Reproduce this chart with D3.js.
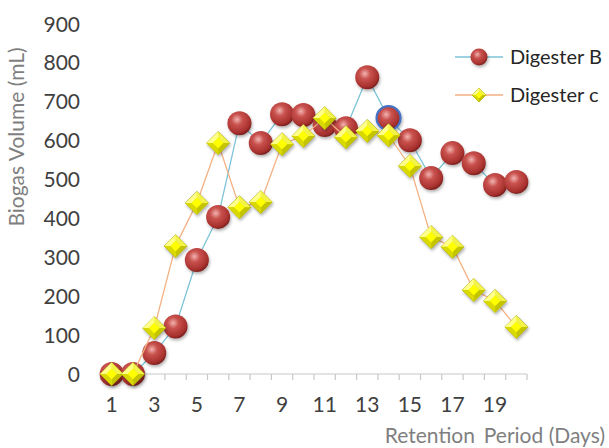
<!DOCTYPE html>
<html>
<head>
<meta charset="utf-8">
<script src="https://cdn.jsdelivr.net/npm/d3@7"></script>
<style>
  body { margin: 0; background: #fff; }
  text { font-family: Lato, "Liberation Sans", Arial, sans-serif; }
</style>
</head>
<body>
<div id="chart"></div>
<script>
// Data
var days = d3.range(1, 21);
var digesterB = [0, 0, 54, 122, 293, 404, 645, 594, 668, 666, 640, 632, 763, 658, 601, 504, 568, 542, 486, 494];
var digesterC = [0, 0, 118, 329, 440, 594, 429, 442, 591, 612, 658, 609, 625, 614, 535, 352, 327, 216, 188, 121];
var yTicks = [0, 100, 200, 300, 400, 500, 600, 700, 800, 900];
var xLabels = [1, 3, 5, 7, 9, 11, 13, 15, 17, 19];
var seriesNames = ["Digester B", "Digester c"];

// Env params
const width = 609;
const height = 448;
const plotLeft = 101, plotRight = 527, plotTop = 24, plotBottom = 374;

var svg = d3.select("#chart").append("svg")
  .attr("width", width)
  .attr("height", height);

var defs = svg.append("defs");

// sphere look for the red circles
var rg = defs.append("radialGradient")
  .attr("id", "ball")
  .attr("cx", "40%").attr("cy", "35%").attr("r", "65%");
rg.append("stop").attr("offset", "0%").attr("stop-color", "#f2b3b0");
rg.append("stop").attr("offset", "35%").attr("stop-color", "#c9524e");
rg.append("stop").attr("offset", "85%").attr("stop-color", "#a7302d");
rg.append("stop").attr("offset", "100%").attr("stop-color", "#7d2220");

// soft drop shadow under markers
var f = defs.append("filter").attr("id", "shadow")
  .attr("x", "-50%").attr("y", "-50%").attr("width", "200%").attr("height", "200%");
f.append("feDropShadow")
  .attr("dx", 1).attr("dy", 2).attr("stdDeviation", 1.5)
  .attr("flood-color", "#000").attr("flood-opacity", 0.3);

// scales
var x = d3.scaleBand().domain(days).range([plotLeft, plotRight]);
var y = d3.scaleLinear().domain([0, 900]).range([plotBottom, plotTop]);
var cx = d => x(d) + x.bandwidth() / 2;

// y tick labels (no axis line)
svg.append("g").selectAll("text")
  .data(yTicks)
  .enter().append("text")
  .attr("x", 80)
  .attr("y", d => y(d))
  .attr("dy", "0.36em")
  .attr("text-anchor", "end")
  .attr("font-size", 21)
  .attr("fill", "#404040")
  .text(d => d);

// x axis: line and ticks between categories
var xAxis = svg.append("g").attr("transform", `translate(0, ${plotBottom})`);
xAxis.append("line")
  .attr("x1", plotLeft).attr("x2", plotRight)
  .attr("stroke", "#c8c8c8").attr("stroke-width", 1.2);
xAxis.selectAll(".tick")
  .data(days.concat([21]))
  .enter().append("line")
  .attr("x1", d => x(d) === undefined ? plotRight : x(d))
  .attr("x2", d => x(d) === undefined ? plotRight : x(d))
  .attr("y1", 0).attr("y2", 6)
  .attr("stroke", "#c8c8c8").attr("stroke-width", 1.2);
xAxis.selectAll(".lab")
  .data(xLabels)
  .enter().append("text")
  .attr("x", d => cx(d))
  .attr("y", 30)
  .attr("dy", "0.36em")
  .attr("text-anchor", "middle")
  .attr("font-size", 21)
  .attr("fill", "#404040")
  .text(d => d);

// axis titles
svg.append("text")
  .attr("transform", "translate(24, 137) rotate(-90)")
  .attr("text-anchor", "middle")
  .attr("font-size", 21)
  .attr("fill", "#7f7f7f")
  .text("Biogas Volume (mL)");

var xTitle = svg.append("text")
  .attr("x", 605)
  .attr("y", 443)
  .attr("text-anchor", "end")
  .attr("font-size", 21)
  .attr("fill", "#7f7f7f");
xTitle.append("tspan").text("Retention");
xTitle.append("tspan").attr("dx", 9).text("Period (Days)");

var line = d3.line().x((d, i) => cx(days[i])).y(d => y(d));

// diamond path with facets
function diamond(g, s) {
  g.append("path")
    .attr("d", `M0,${-s}L${s},0L0,${s}L${-s},0Z`)
    .attr("fill", "#e6e600")
    .attr("stroke", "#9c9c1a").attr("stroke-width", 0.8);
  var k = s * 0.45;
  g.append("path")
    .attr("d", `M0,${-s}L${s},0L${k},0L0,${-k}Z`)
    .attr("fill", "#f2f24a");
  g.append("path")
    .attr("d", `M0,${-s}L${-s},0L${-k},0L0,${-k}Z`)
    .attr("fill", "#ffff8a");
  g.append("path")
    .attr("d", `M0,${s}L${s},0L${k},0L0,${k}Z`)
    .attr("fill", "#c4c400");
  g.append("path")
    .attr("d", `M0,${s}L${-s},0L${-k},0L0,${k}Z`)
    .attr("fill", "#d9d900");
  g.append("rect")
    .attr("x", -k / 1.414).attr("y", -k / 1.414)
    .attr("width", k * 1.414).attr("height", k * 1.414)
    .attr("transform", "rotate(45)")
    .attr("fill", "#ffff00");
}

// Digester B: line then circles
svg.append("path")
  .datum(digesterB)
  .attr("d", line)
  .attr("fill", "none")
  .attr("stroke", "#7cc3d6")
  .attr("stroke-width", 1.3);

svg.append("g").selectAll("circle")
  .data(digesterB)
  .enter().append("circle")
  .attr("cx", (d, i) => cx(days[i]))
  .attr("cy", d => y(d))
  .attr("r", 12)
  .attr("fill", "url(#ball)")
  .attr("filter", "url(#shadow)")
  .attr("stroke", (d, i) => days[i] === 14 ? "#4472c4" : "none")
  .attr("stroke-width", 2.2);

// Digester c: line then diamonds
svg.append("path")
  .datum(digesterC)
  .attr("d", line)
  .attr("fill", "none")
  .attr("stroke", "#f4b183")
  .attr("stroke-width", 1.3);

svg.append("g").selectAll("g")
  .data(digesterC)
  .enter().append("g")
  .attr("transform", (d, i) => `translate(${cx(days[i])}, ${y(d)})`)
  .attr("filter", "url(#shadow)")
  .each(function() { diamond(d3.select(this), 11.5); });

// legend
var legend = svg.append("g");
var rows = [57, 95];
legend.selectAll("line")
  .data(seriesNames)
  .enter().append("line")
  .attr("x1", 455).attr("x2", 503)
  .attr("y1", (d, i) => rows[i]).attr("y2", (d, i) => rows[i])
  .attr("stroke", (d, i) => i === 0 ? "#7cc3d6" : "#f4b183")
  .attr("stroke-width", 1.3);
legend.append("circle")
  .attr("cx", 479).attr("cy", rows[0]).attr("r", 8.5)
  .attr("fill", "url(#ball)")
  .attr("filter", "url(#shadow)");
diamond(legend.append("g").attr("transform", `translate(479, ${rows[1]})`), 7);
legend.selectAll("text")
  .data(seriesNames)
  .enter().append("text")
  .attr("x", 510)
  .attr("y", (d, i) => rows[i])
  .attr("dy", "0.36em")
  .attr("font-size", 20)
  .attr("fill", "#262626")
  .text(d => d);
</script>
</body>
</html>
